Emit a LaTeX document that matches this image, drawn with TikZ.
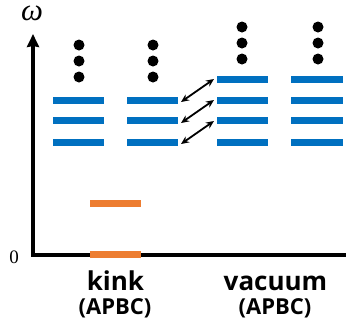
\documentclass[tikz,border=0pt]{standalone}
\usepackage{fontspec}
\setsansfont{Open Sans}
\newfontfamily\symserif{Liberation Serif}
\usetikzlibrary{arrows.meta}
\definecolor{lvlblue}{HTML}{0070C0}
\definecolor{lvlorange}{HTML}{ED7D31}
\tikzset{
  lvl/.style={line width=7pt, lvlblue},
  olvl/.style={line width=7pt, lvlorange},
  dotc/.style={circle, fill=black, inner sep=0pt, minimum size=11pt},
  axis/.style={line width=3.2pt, black},
  dbl/.style={line width=1.8pt, {Stealth[length=8pt,width=7pt]}-{Stealth[length=8pt,width=7pt]}},
  bigl/.style={font=\sffamily\bfseries\fontsize{26}{28}\selectfont, inner sep=0pt},
  smalll/.style={font=\sffamily\bfseries\fontsize{22}{24}\selectfont, inner sep=0pt}
}
\begin{document}
\begin{tikzpicture}[x=1pt,y=-1pt]
\useasboundingbox (0,0) rectangle (346,327);
% axes
\coordinate (o) at (33,255);
\coordinate (ytop) at (33,34);
\coordinate (xend) at (346,255);
\draw[axis,-{Stealth[length=13pt,width=12pt,inset=1pt]}] (o) -- (ytop);
\draw[axis] (31.4,255) -- (xend);
\node[font=\symserif\itshape\fontsize{31}{33}\selectfont, inner sep=0pt, anchor=base] (om) at (32,20) {ω};
\node[font=\symserif\fontsize{19}{21}\selectfont, inner sep=0pt, anchor=base] (zero) at (14,263) {0};
% group 1
\foreach \y/\n in {100/a,120/b,142/c}{
  \coordinate (g1\n l) at (53,\y); \coordinate (g1\n r) at (104,\y);
  \draw[lvl] (g1\n l) -- (g1\n r);
  \coordinate (g2\n l) at (127,\y); \coordinate (g2\n r) at (178,\y);
  \draw[lvl] (g2\n l) -- (g2\n r);
}
\foreach \y/\n in {45/1,61/2,77/3}{
  \node[dotc] (d1\n) at (79,\y) {};
  \node[dotc] (d2\n) at (153,\y) {};
}
% group 3,4
\foreach \y/\n in {79/a,100/b,120/c,142/d}{
  \coordinate (g3\n l) at (217,\y); \coordinate (g3\n r) at (268,\y);
  \draw[lvl] (g3\n l) -- (g3\n r);
  \coordinate (g4\n l) at (291,\y); \coordinate (g4\n r) at (343,\y);
  \draw[lvl] (g4\n l) -- (g4\n r);
}
\foreach \y/\n in {27/1,43/2,59/3}{
  \node[dotc] (d3\n) at (242,\y) {};
  \node[dotc] (d4\n) at (318,\y) {};
}
% arrows
\coordinate (a1s) at (181,102); \coordinate (a1e) at (214,79);
\coordinate (a2s) at (181,123); \coordinate (a2e) at (214,100);
\coordinate (a3s) at (181,144); \coordinate (a3e) at (214,121);
\draw[dbl] (a1s) -- (a1e);
\draw[dbl] (a2s) -- (a2e);
\draw[dbl] (a3s) -- (a3e);
% orange
\coordinate (k1l) at (90,203); \coordinate (k1r) at (141,203);
\coordinate (k0l) at (90,254); \coordinate (k0r) at (141,254);
\draw[olvl] (k1l) -- (k1r);
\draw[olvl] (k0l) -- (k0r);
% labels
\node[bigl, anchor=base] (kink) at (115.5,290) {kink};
\node[smalll, anchor=base] (kinkb) at (115,314) {(APBC)};
\node[bigl, anchor=base] (vac) at (275.5,290) {vacuum};
\node[smalll, anchor=base] (vacb) at (275,314) {(APBC)};
\end{tikzpicture}
\end{document}
